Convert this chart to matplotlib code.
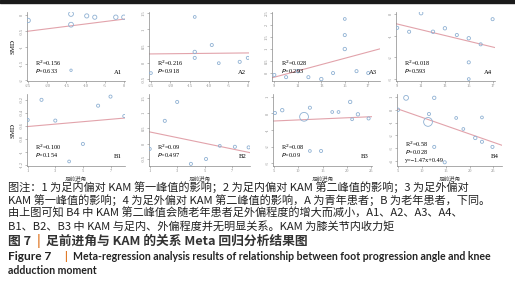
import matplotlib
matplotlib.use("Agg")
import matplotlib.pyplot as plt
from matplotlib.patches import Rectangle

W, H = 515, 298

# ---- data ----
a1_x = [-25, -13.8, -13.8, -9.7, -7.6, -2.1, 0, -13.8]
a1_y = [-0.17, 0.03, -0.3, -0.03, -0.07, -0.07, -0.07, -1.7]
a1_s = [10, 12, 12, 9, 9, 10, 10, 3]
a1_fit = (0.0148, -0.13)

a2_x = [-25, -13.7, -13.7, -13.7, -9.3, -7.5, -2.1, 0]
a2_y = [-0.32, 1.38, 0.32, 0.14, 0.53, -0.02, 0.02, 0.14]
a2_s = [4, 4, 6, 5, 5, 4, 5, 5]
a2_fit = (0.0012, 0.29)

a3_x = [9, 10, 11, 11.9, 13, 14, 15, 15, 15, 16, 17]
a3_y = [-0.08, -0.17, 0.08, -0.17, -0.25, 0.0, 2.25, 1.58, 1.0, 0.08, 0.0]
a3_s = [5, 5, 6, 5, 6, 5, 4, 5, 6, 5, 5]
a3_fit = (0.131, -1.35)

a4_x = [9, 10, 11, 12, 13, 14, 15, 15, 15, 16, 17]
a4_y = [-0.64, -0.82, 0.04, -0.82, -0.66, -0.97, -1.12, -2.23, -3.0, -1.4, -0.24]
a4_s = [5, 5, 7, 6, 6, 5, 6, 5, 4, 5, 5]
a4_fit = (-0.1325, 0.73)

b1_x = [1.0, 2.0, 3.0, 4.0, 5.0, 6.1, 7.0, 8.0]
b1_y = [-0.51, -0.2, -0.52, -1.15, -0.88, -0.29, -0.15, -0.45]
b1_s = [5, 5, 5, 4, 5, 5, 5, 5]
b1_fit = (0.0186, -0.63)

b2_x = [1.0, 2.1, 3.0, 4.0, 5.1, 6.1, 7.2, 8.2]
b2_y = [-0.17, 0.75, 1.37, -0.66, -0.5, -0.07, -0.1, -0.12]
b2_s = [5, 5, 5, 5, 5, 4, 5, 5]
b2_fit = (-0.093, 0.48)

b3_x = [5.2, 6.7, 11.2, 12.4, 12.4, 14.7, 17.0, 18.3, 20.7, 21.1, 22.3, 24.5]
b3_y = [0.03, 0.2, -0.2, 0.35, -2.27, -2.27, 0.09, 0.09, 0.7, -0.35, -0.05, -0.3]
b3_s = [5, 6, 40, 5, 4, 5, 4, 4, 6, 4, 6, 5]
b3_fit = (0.013, -0.52)

b4_x = [5, 6.7, 11.3, 11.5, 12.6, 12.6, 14.8, 17.2, 18.7, 21.2, 22.6, 22.6, 24.8]
b4_y = [0.0, 0.93, -0.95, -0.33, 0.93, -2.9, -4.1, -0.64, -1.5, -2.2, -2.5, -0.6, -2.9]
b4_s = [6, 12, 40, 5, 6, 5, 5, 4, 4, 6, 5, 4, 5]
b4_fit = (-0.13, 0.71)

panels = [
    # name, x, y, sizes, fit, stats, box(px l,r,t,b), xlim, ylim, xticks, yticks
    ("A1", a1_x, a1_y, a1_s, a1_fit, ["R$^2$=0.156", "$P$=0.633"],
     (27, 125, 12, 81), (-25.3, 0.3), (-2.03, 0.09), [-25, -20, -15, -10, -5, 0], [0, -0.5, -1, -1.5, -2]),
    ("A2", a2_x, a2_y, a2_s, a2_fit, ["R$^2$=0.216", "$P$=0.918"],
     (149, 249, 12, 81), (-25.5, 0.3), (-0.56, 1.53), [-25, -20, -15, -10, -5, 0], [1.5, 1, 0.5, 0, -0.5]),
    ("A3", a3_x, a3_y, a3_s, a3_fit, ["R$^2$=0.028", "$P$=0.293"],
     (272, 380, 12, 81), (8.8, 18), (-0.33, 2.54), [9, 11, 13, 15, 17], [2.5, 2, 1.5, 1, 0.5, 0]),
    ("A4", a4_x, a4_y, a4_s, a4_fit, ["R$^2$=0.018", "$P$=0.593"],
     (396, 495, 12, 81), (8.9, 17.2), (-3.09, 0.09), [9, 11, 13, 15, 17], [0, -1, -2, -3]),
    ("B1", b1_x, b1_y, b1_s, b1_fit, ["R$^2$=0.100", "$P$=0.154"],
     (27, 125, 94, 166), (0.95, 8.05), (-1.22, -0.11), [1, 3, 5, 7], [-0.2, -0.4, -0.6, -0.8, -1, -1.2]),
    ("B2", b2_x, b2_y, b2_s, b2_fit, ["R$^2$=0.09", "$P$=0.497"],
     (149, 250, 94, 166), (0.95, 8.3), (-0.73, 1.63), [1, 3, 5, 7], [1.5, 1, 0.5, 0, -0.5]),
    ("B3", b3_x, b3_y, b3_s, b3_fit, ["R$^2$=0.08", "$P$=0.09"],
     (273, 372, 94, 166), (4.8, 25.2), (-3.18, 1.18), [5, 10, 15, 20, 25], [1, 0, -1, -2, -3]),
    ("B4", b4_x, b4_y, b4_s, b4_fit, ["R$^2$=0.58", "$P$=0.028", "y=\u22121.47x+0.49"],
     (397, 502, 94, 166), (4.8, 26.8), (-4.39, 1.23), [5, 10, 15, 20, 25], [1, 0, -1, -2, -3, -4]),
]

fig = plt.figure(figsize=(W / 100, H / 100), dpi=100)
fig.patches.append(Rectangle((0, 1 - 3 / H), 1, 3 / H, transform=fig.transFigure,
                             color="#1a1a1a", zorder=0))

serif = "Liberation Serif"
cjk = ["Noto Sans CJK SC", "DejaVu Sans"]
pt_col = "#8fb1d3"
fit_col = "#e2a3ab"
ax_col = "#888888"

for name, xs, ys, ss, fit, stats, box, xl, yl, xt, yt in panels:
    l, r, t, b = box
    ax = fig.add_axes([l / W, 1 - b / H, (r - l) / W, (b - t) / H])
    ax.scatter(xs, ys, s=ss, facecolors="none", edgecolors=pt_col, linewidths=0.6, zorder=3)
    slope, inter = fit
    ax.plot(xl, [slope * v + inter for v in xl], color=fit_col, lw=0.8, zorder=2)
    ax.set_xlim(*xl)
    ax.set_ylim(*yl)
    ax.set_xticks(xt)
    ax.set_yticks(yt)
    ax.set_xticklabels([f"{v:g}" for v in xt], fontsize=3.2, family=serif, color="#555555")
    ax.set_yticklabels([f"{v:g}" for v in yt], fontsize=3.2, family=serif, color="#555555",
                       rotation=90, va="center")
    for side in ("top", "right"):
        ax.spines[side].set_visible(False)
    for side in ("left", "bottom"):
        ax.spines[side].set_color(ax_col)
        ax.spines[side].set_linewidth(0.5)
    ax.tick_params(length=1.5, width=0.4, pad=1, colors=ax_col)
    ax.set_facecolor("none")
    ys0 = 0.26 if len(stats) == 2 else 0.30
    for i, s in enumerate(stats):
        ax.text(0.08, ys0 - i * 0.11, s, transform=ax.transAxes, fontsize=4.5,
                family=serif, va="center")
    ax.text(0.97, 0.13, name, transform=ax.transAxes, fontsize=4.8, family=serif,
            ha="right", va="center")
    if name in ("A1", "B1"):
        ax.set_ylabel("SMD", fontsize=5, family=serif, labelpad=3)
    if name.startswith("B"):
        ax.set_xlabel("足前进角", fontsize=4, family=cjk, labelpad=1.5, color="#444444")

lines = [
    "图注：1 为足内偏对 KAM 第一峰值的影响；2 为足内偏对 KAM 第二峰值的影响；3 为足外偏对",
    "KAM 第一峰值的影响；4 为足外偏对 KAM 第二峰值的影响，A 为青年患者；B 为老年患者，下同。",
    "由上图可知 B4 中 KAM 第二峰值会随老年患者足外偏程度的增大而减小，A1、A2、A3、A4、",
    "B1、B2、B3 中 KAM 与足内、外偏程度并无明显关系。KAM 为膝关节内收力矩",
]
for i, s in enumerate(lines):
    fig.text(8 / W, 1 - (187 + 13 * i) / H, s, fontsize=8.05, family=cjk,
             color="#222222", va="center")

orange = "#e07b2a"
fig.text(8 / W, 1 - 241 / H, "图 7", fontsize=9.2, family=cjk, weight="bold",
         color="#333333", va="center")
fig.text(37 / W, 1 - 241 / H, "|", fontsize=9.2, family=cjk, weight="bold",
         color=orange, va="center")
fig.text(46 / W, 1 - 241 / H, "足前进角与 KAM 的关系 Meta 回归分析结果图", fontsize=9.2,
         family=cjk, weight="bold", color="#333333", va="center")
fig.text(8 / W, 1 - 257 / H, "Figure 7", fontsize=8.6, family="Lato",
         weight="bold", color="#222222", va="center")
fig.text(64 / W, 1 - 257 / H, "|", fontsize=8, family="Lato", weight="bold",
         color=orange, va="center")
fig.text(73 / W, 1 - 257 / H,
         "Meta-regression analysis results of relationship between foot progression angle and knee",
         fontsize=7.6, family="Lato", weight="bold", color="#222222", va="center")
fig.text(8 / W, 1 - 271 / H, "adduction moment", fontsize=7.6, family="Lato",
         weight="bold", color="#222222", va="center")

fig.savefig("out.png", dpi=100)
